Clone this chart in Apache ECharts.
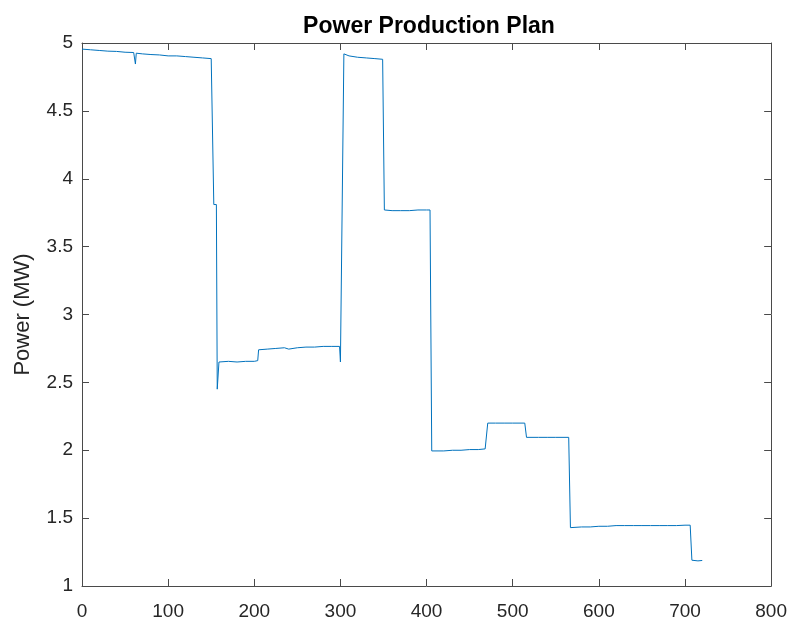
<!DOCTYPE html>
<html>
<head>
<meta charset="utf-8">
<script src="https://cdn.jsdelivr.net/npm/echarts@6/dist/echarts.min.js"></script>
<style>html,body{margin:0;padding:0;background:#fff}#c{width:790px;height:621px}</style>
</head>
<body>
<div id="c"></div>
<script>
const titleText = 'Power Production Plan';
const yAxisName = 'Power (MW)';
const xTicks = [0, 100, 200, 300, 400, 500, 600, 700, 800];
const yTicks = [1, 1.5, 2, 2.5, 3, 3.5, 4, 4.5, 5];
const timeX = [0,10,20,30,40,50,60,61,62,63,70,80,90,100,110,120,130,140,150,152,
  153,156,157,159,170,180,190,200,204,205,215,225,235,240,250,260,270,280,290,299,
  300,304,310,320,330,340,349,351,360,370,380,390,400,404,406,420,430,440,450,460,468,
  471,480,490,500,514,516,530,540,550,565,567,580,590,600,610,620,630,640,650,660,670,
  680,690,700,706,708,715,720];
const powerY = [4.955,4.950,4.945,4.940,4.938,4.932,4.930,4.925,4.845,4.925,4.920,4.915,4.912,4.905,4.905,4.900,4.895,4.890,4.885,4.885,
  3.81,3.81,2.45,2.65,2.655,2.650,2.655,2.655,2.66,2.74,2.745,2.750,2.755,2.745,2.755,2.760,2.760,2.765,2.765,2.765,
  2.65,4.92,4.905,4.895,4.890,4.885,4.880,3.77,3.765,3.765,3.765,3.770,3.770,3.770,1.995,1.995,2.000,2.000,2.005,2.005,2.010,
  2.200,2.200,2.200,2.200,2.200,2.095,2.095,2.095,2.095,2.095,1.430,1.435,1.435,1.440,1.440,1.445,1.445,1.445,1.445,1.445,1.445,
  1.445,1.445,1.448,1.448,1.19,1.185,1.188];

const data = timeX.map((x, i) => [x, powerY[i]]);
const axisColor = '#4a4a4a';
const textColor = '#262626';
const font = 'Liberation Sans, Arial, Helvetica, sans-serif';
const chart = echarts.init(document.getElementById('c'), null, {renderer: 'canvas'});
const baseAxis = {
  axisLine: {show: true, onZero: false, lineStyle: {color: axisColor, width: 1}},
  axisTick: {show: true, inside: true, length: 7, lineStyle: {color: axisColor}},
  splitLine: {show: false},
};
chart.setOption({
  animation: false,
  title: {
    text: titleText, left: 424, top: 10, textAlign: 'center',
    textStyle: {fontFamily: font, fontSize: 23, fontWeight: 'bold', color: '#000'}
  },
  grid: {left: 82, right: 18, top: 43, bottom: 33, containLabel: false},
  xAxis: [
    Object.assign({}, baseAxis, {type: 'value', position: 'bottom', min: xTicks[0], max: xTicks[xTicks.length-1], interval: 100,
      axisLabel: {color: textColor, fontFamily: font, fontSize: 19, margin: 16}}),
    Object.assign({}, baseAxis, {type: 'value', position: 'top', min: xTicks[0], max: xTicks[xTicks.length-1], interval: 100,
      axisLabel: {show: false}})
  ],
  yAxis: [
    Object.assign({}, baseAxis, {type: 'value', position: 'left', min: yTicks[0], max: yTicks[yTicks.length-1], interval: 0.5,
      name: yAxisName, nameLocation: 'middle', nameGap: 48, nameRotate: 90,
      nameTextStyle: {color: textColor, fontFamily: font, fontSize: 22},
      axisLabel: {color: textColor, fontFamily: font, fontSize: 19, margin: 9}}),
    Object.assign({}, baseAxis, {type: 'value', position: 'right', min: yTicks[0], max: yTicks[yTicks.length-1], interval: 0.5,
      axisLabel: {show: false}})
  ],
  series: [{
    type: 'line', data: data, xAxisIndex: 0, yAxisIndex: 0,
    showSymbol: false, symbol: 'none',
    lineStyle: {color: '#0072BD', width: 1}
  }]
});
</script>
</body>
</html>
